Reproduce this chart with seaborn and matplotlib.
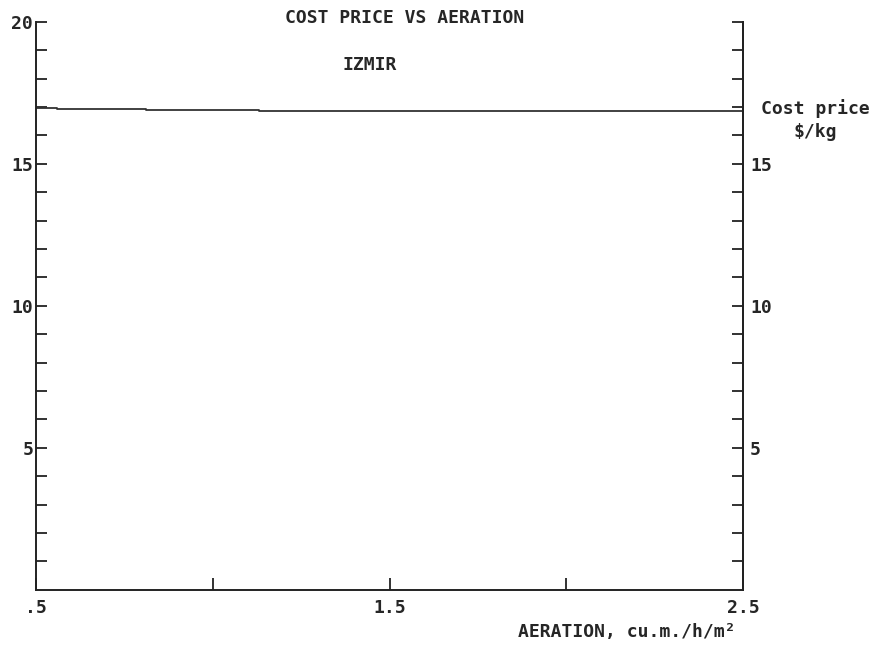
import numpy as np
import pandas as pd
import matplotlib
matplotlib.use("Agg")
import matplotlib.pyplot as plt
import seaborn as sns

sns.set_theme(style="white")
plt.rcParams["font.family"] = ["DejaVu Sans Mono"]
plt.rcParams["font.weight"] = "bold"

# aeration break points (cu.m./h/m2) and cost price ($/kg)
aeration = [0.5, 0.56, 0.81, 1.13, 2.5]
cost_price = [16.97, 16.92, 16.88, 16.85, 16.85]

y_ticks = list(range(1, 21))
left_labels = [str(v) if v % 5 == 0 else "" for v in y_ticks]
right_labels = [str(v) if v % 5 == 0 and v < 20 else "" for v in y_ticks]
x_ticks = [0.5, 1.0, 1.5, 2.0, 2.5]
x_labels = [".5", "", "1.5", "", "2.5"]

df = pd.DataFrame({"Aeration": aeration, "Cost": cost_price})

W, H = 877, 646
fig = plt.figure(figsize=(W / 100, H / 100), dpi=100)
ax = fig.add_axes([36 / W, 1 - 589.7 / H, (743 - 36) / W, (589.7 - 21.7) / H])

sns.lineplot(data=df, x="Aeration", y="Cost", ax=ax, color="#333333",
             linewidth=1.3, drawstyle="steps-post", estimator=None)

ax.set_xlim(0.5, 2.5)
ax.set_ylim(0, 20)
ax.set_xlabel("")
ax.set_ylabel("")

ax.spines["top"].set_visible(False)
for s in ["left", "bottom", "right"]:
    ax.spines[s].set_color("#222222")
    ax.spines[s].set_linewidth(1.4)

ax.set_xticks(x_ticks)
ax.set_xticklabels(x_labels)
ax.set_yticks(y_ticks)
ax.set_yticklabels(left_labels)
ax.tick_params(axis="y", direction="in", length=8, width=1.3, color="#222222",
               pad=2, labelsize=13, left=True, right=False,
               labelleft=True, labelright=False)
ax.tick_params(axis="x", direction="in", length=9, width=1.3, color="#222222",
               pad=7, labelsize=13, bottom=True, top=False)

ax2 = ax.twinx()
ax2.set_ylim(0, 20)
ax2.set_yticks(y_ticks)
ax2.set_yticklabels(right_labels)
ax2.tick_params(axis="y", direction="in", length=8, width=1.3, color="#222222",
                pad=5, labelsize=13, right=True, left=False,
                labelright=True, labelleft=False)
ax2.tick_params(axis="x", bottom=False, top=False, labelbottom=False)
for s in ["top", "left", "bottom"]:
    ax2.spines[s].set_visible(False)
ax2.spines["right"].set_color("#222222")
ax2.spines["right"].set_linewidth(1.4)

fig.text(405 / W, 1 - 18 / H, "COST PRICE VS AERATION", ha="center", va="center",
         fontsize=13, fontweight="bold")
fig.text(370 / W, 1 - 65 / H, "IZMIR", ha="center", va="center",
         fontsize=13, fontweight="bold")
fig.text(815 / W, 1 - 120 / H, "Cost price\n$/kg", ha="center", va="center",
         fontsize=13, fontweight="bold", linespacing=1.3)
fig.text(735 / W, 1 - 632 / H, "AERATION, cu.m./h/m²", ha="right", va="center",
         fontsize=13, fontweight="bold")

fig.savefig("out.png", dpi=100)
